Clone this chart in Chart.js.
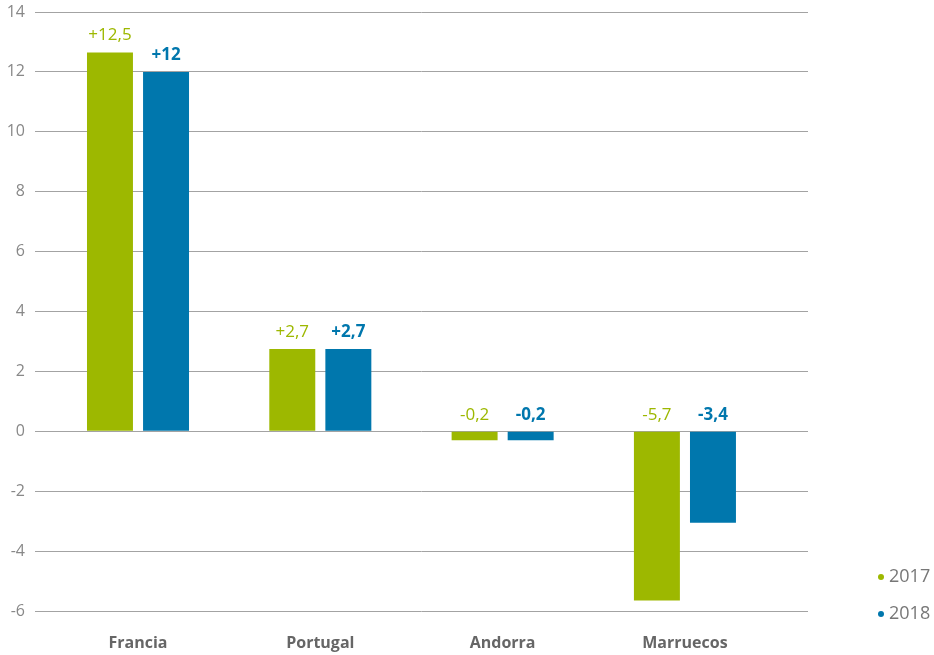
<!DOCTYPE html>
<html>
<head>
<meta charset="utf-8">
<script src="https://cdn.jsdelivr.net/npm/chart.js@4"></script>
<style>
  html, body { margin: 0; padding: 0; background: #fff; }
  #wrap { width: 934px; height: 655px; }
</style>
</head>
<body>
<div id="wrap"><canvas id="chart"></canvas></div>
<script>
// data
const categories = ['Francia', 'Portugal', 'Andorra', 'Marruecos'];
const seriesNames = ['2017', '2018'];
const values2017 = [12.65, 2.75, -0.3, -5.65];
const values2018 = [12, 2.75, -0.3, -3.05];
const labels2017 = ['+12,5', '+2,7', '-0,2', '-5,7'];
const labels2018 = ['+12', '+2,7', '-0,2', '-3,4'];
const yTicks = [-6, -4, -2, 0, 2, 4, 6, 8, 10, 12, 14];

const green = '#9db800';
const blue = '#0077ad';

// value labels over each bar
const barLabels = {
  id: 'barLabels',
  afterDatasetsDraw(chart) {
    const ctx = chart.ctx;
    const texts = [labels2017, labels2018];
    chart.data.datasets.forEach((ds, di) => {
      const meta = chart.getDatasetMeta(di);
      meta.data.forEach((bar, i) => {
        const top = Math.min(bar.y, bar.base);
        ctx.save();
        ctx.font = (di === 1 ? 'bold ' : '') + '17px "Open Sans"';
        ctx.fillStyle = ds.backgroundColor;
        ctx.textAlign = 'center';
        ctx.textBaseline = 'middle';
        ctx.fillText(texts[di][i], bar.x, top - 17);
        ctx.restore();
      });
    });
  }
};

// small dot legend at bottom right
const dotLegend = {
  id: 'dotLegend',
  afterDraw(chart) {
    const ctx = chart.ctx;
    const x = chart.chartArea.right + 73;
    chart.data.datasets.forEach((ds, di) => {
      const y = 577 + di * 37;
      ctx.save();
      ctx.fillStyle = ds.backgroundColor;
      ctx.beginPath();
      ctx.arc(x, y, 3, 0, Math.PI * 2);
      ctx.fill();
      ctx.fillStyle = '#777';
      ctx.font = '18px "Open Sans"';
      ctx.textBaseline = 'middle';
      ctx.fillText(ds.label, x + 8, y);
      ctx.restore();
    });
  }
};

new Chart(document.getElementById('chart'), {
  type: 'bar',
  data: {
    datasets: [
      {
        label: seriesNames[0],
        data: values2017.map((v, i) => ({ x: i, y: v })),
        backgroundColor: green
      },
      {
        label: seriesNames[1],
        data: values2018.map((v, i) => ({ x: i, y: v })),
        backgroundColor: blue
      }
    ]
  },
  options: {
    responsive: true,
    maintainAspectRatio: false,
    animation: false,
    categoryPercentage: 0.615,
    barPercentage: 0.82,
    layout: { padding: { top: 12, right: 126, left: 0, bottom: 0 } },
    plugins: {
      legend: { display: false },
      tooltip: { enabled: false }
    },
    scales: {
      x: {
        type: 'linear',
        offset: false,
        min: -0.565,
        max: 3.675,
        afterBuildTicks(scale) {
          scale.ticks = categories.map((_, i) => ({ value: i }));
        },
        afterFit(scale) { scale.height = 44; },
        grid: { display: false },
        border: { display: false },
        ticks: {
          padding: 15,
          color: '#666',
          font: { family: 'Open Sans', size: 16, weight: 'bold' },
          callback: v => categories[v]
        }
      },
      y: {
        min: -6,
        max: 14,
        afterBuildTicks(scale) {
          scale.ticks = yTicks.map(v => ({ value: v }));
        },
        afterFit(scale) {
          scale.width = 35;
          scale.paddingTop = 0;
          scale.paddingBottom = 0;
        },
        grid: { color: '#a3a3a3', lineWidth: 1, drawTicks: false },
        border: { display: false },
        ticks: {
          padding: 10,
          color: '#888',
          font: { family: 'Open Sans', size: 16 }
        }
      }
    }
  },
  plugins: [barLabels, dotLegend]
});
</script>
</body>
</html>
